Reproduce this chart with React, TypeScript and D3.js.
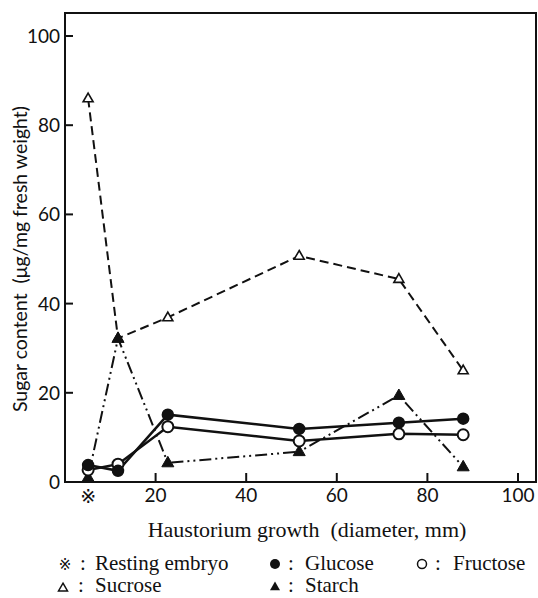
import React from "react";
import * as d3 from "d3";

const growth = [5.1, 11.7, 22.7, 51.7, 73.7, 87.9];
const glucose = [3.8, 2.5, 15.1, 11.9, 13.3, 14.2];
const fructose = [2.7, 4.0, 12.4, 9.2, 10.8, 10.6];
const sucrose = [86.0, 32.2, 36.9, 50.7, 45.5, 25.0];
const starch = [1.0, 32.2, 4.3, 6.8, 19.4, 3.4];
const xTicks = [20, 40, 60, 80, 100];
const yTicks = [0, 20, 40, 60, 80, 100];

const W = 538;
const H = 598;
const left = 65, right = 536, top = 13, bottom = 482;

const serif = "'Liberation Serif', 'Times New Roman', serif";
const sans = "Lato, 'Open Sans', sans-serif";
const symFont = "'DejaVu Sans', 'Noto Sans CJK JP', sans-serif";

function tri(cx: number, cy: number, s: number) {
  const h = s * 0.87;
  return `M${cx},${cy - h * 0.62} L${cx + s / 2},${cy + h * 0.38} L${cx - s / 2},${cy + h * 0.38} Z`;
}

export default function App() {
  const x = d3.scaleLinear().domain([0, 100]).range([65, 518]);
  const y = d3.scaleLinear().domain([0, 100]).range([482, 36]);
  const line = (vals: number[]) =>
    d3.line<number>().x((_, i) => x(growth[i])).y((v) => y(v))(vals) || "";

  return (
    <svg width={W} height={H} style={{ position: "absolute", left: 0, top: 0, background: "#fff" }}>
      <rect x={0} y={0} width={W} height={H} fill="#fff" />
      <rect x={left} y={top} width={right - left} height={bottom - top} fill="none" stroke="#111" strokeWidth={2} />
      {yTicks.map((t) => (
        <g key={"y" + t}>
          {t > 0 && <line x1={left} x2={left + 8} y1={y(t)} y2={y(t)} stroke="#111" strokeWidth={2} />}
          <text x={60} y={y(t) + 7} textAnchor="end" fontFamily={sans} fontSize={19} fill="#111">{t}</text>
        </g>
      ))}
      {xTicks.map((t) => (
        <g key={"x" + t}>
          <line x1={x(t)} x2={x(t)} y1={bottom} y2={bottom - 9} stroke="#111" strokeWidth={2} />
          <text x={x(t)} y={502} textAnchor="middle" fontFamily={sans} fontSize={19} fill="#111">{t}</text>
        </g>
      ))}
      <text x={x(growth[0])} y={503} textAnchor="middle" fontFamily={symFont} fontSize={19} fill="#111">※</text>
      <text x={307} y={537} textAnchor="middle" fontFamily={serif} fontSize={22} fill="#111" style={{ whiteSpace: "pre" }}>{"Haustorium growth  (diameter, mm)"}</text>
      <text transform="translate(27,259) rotate(-90)" textAnchor="middle" fontFamily={sans} fontSize={19.5} fill="#111" style={{ whiteSpace: "pre" }}>{"Sugar content  (μg/mg fresh weight)"}</text>

      <path d={line(sucrose)} fill="none" stroke="#111" strokeWidth={2} strokeDasharray="9 5" />
      <path d={line(starch)} fill="none" stroke="#111" strokeWidth={2} strokeDasharray="12 4 2 4 2 4" />
      <path d={line(fructose)} fill="none" stroke="#111" strokeWidth={2.5} />
      <path d={line(glucose)} fill="none" stroke="#111" strokeWidth={2.5} />

      {sucrose.map((v, i) => (
        <path key={"s" + i} d={tri(x(growth[i]), y(v), 10)} fill="#fff" stroke="#111" strokeWidth={1.6} />
      ))}
      {starch.map((v, i) => (
        <path key={"st" + i} d={tri(x(growth[i]), y(v), 12)} fill="#111" stroke="#111" strokeWidth={1} />
      ))}
      {fructose.map((v, i) => (
        <circle key={"f" + i} cx={x(growth[i])} cy={y(v)} r={5.5} fill="#fff" stroke="#111" strokeWidth={2} />
      ))}
      {glucose.map((v, i) => (
        <circle key={"g" + i} cx={x(growth[i])} cy={y(v)} r={5.5} fill="#111" stroke="#111" strokeWidth={1.5} />
      ))}

      <g fontFamily={serif} fontSize={21} fill="#111">
        <text x={65} y={570} textAnchor="middle" fontFamily={symFont} fontSize={15}>※</text>
        <text x={80} y={570}>:</text>
        <text x={95} y={570}>Resting embryo</text>
        <circle cx={275} cy={564} r={5} fill="#111" />
        <text x={288} y={570}>:</text>
        <text x={305} y={570}>Glucose</text>
        <circle cx={422} cy={564} r={4.5} fill="#fff" stroke="#111" strokeWidth={1.5} />
        <text x={435} y={570}>:</text>
        <text x={453} y={570}>Fructose</text>
        <path d={tri(63, 588, 9)} fill="#fff" stroke="#111" strokeWidth={1.5} />
        <text x={78} y={592}>:</text>
        <text x={95} y={592}>Sucrose</text>
        <path d={tri(275, 587, 10)} fill="#111" />
        <text x={288} y={592}>:</text>
        <text x={305} y={592}>Starch</text>
      </g>
    </svg>
  );
}
